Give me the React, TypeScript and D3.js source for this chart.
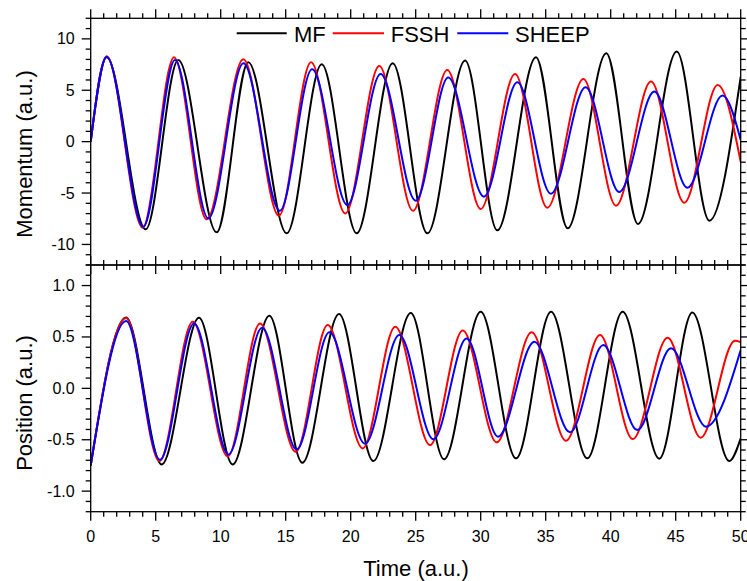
import React from "react";
import * as d3 from "d3";

// ---------- data (extrema) ----------
const mfMomT = [0, 1.23, 4.23, 6.74, 9.69, 12.12, 15.08, 17.77, 20.46, 23.23, 25.9, 28.8, 31.28, 34.25, 36.69, 39.66, 42.1, 45.08, 47.59, 50];
const mfMomV = [0, 8.2, -8.53, 7.95, -8.82, 7.73, -8.92, 7.53, -8.92, 7.63, -8.92, 7.89, -8.63, 8.22, -8.43, 8.6, -8.01, 8.76, -7.69, 6.33];

const fsshMomT = [0, 1.23, 4.0, 6.41, 8.92, 11.74, 14.48, 16.95, 19.58, 22.2, 24.79, 27.43, 30.0, 32.64, 35.12, 37.9, 40.41, 43.1, 45.66, 48.23, 50];
const fsshMomV = [0, 8.3, -8.37, 8.22, -7.56, 8.02, -7.2, 7.73, -6.98, 7.37, -6.72, 6.98, -6.55, 6.59, -6.43, 6.1, -6.23, 5.84, -5.94, 5.52, -1.95];

const sheepMomT = [0, 1.23, 4.05, 6.48, 9.05, 11.75, 14.55, 17.03, 19.74, 22.3, 25.0, 27.5, 30.25, 32.82, 35.4, 38.07, 40.66, 43.36, 45.9, 48.6, 50];
const sheepMomV = [0, 8.25, -8.28, 7.95, -7.46, 7.63, -6.72, 7.05, -6.16, 6.59, -5.74, 6.23, -5.35, 5.78, -5.06, 5.3, -4.9, 4.87, -4.48, 4.48, 0.17];

const mfPosT = [0, 2.72, 5.46, 8.33, 10.92, 13.74, 16.28, 19.1, 21.74, 24.62, 27.18, 30.0, 32.72, 35.41, 38.2, 40.92, 43.74, 46.28, 49.12, 50];
const mfPosV = [-0.75, 0.69, -0.74, 0.687, -0.74, 0.706, -0.723, 0.723, -0.707, 0.733, -0.69, 0.745, -0.681, 0.745, -0.681, 0.745, -0.684, 0.739, -0.707, -0.486];

const fsshPosT = [0, 2.72, 5.28, 7.85, 10.54, 13.02, 15.77, 18.23, 20.92, 23.43, 26.1, 28.62, 31.23, 33.92, 36.56, 39.18, 41.69, 44.38, 46.92, 49.56, 50];
const fsshPosV = [-0.75, 0.685, -0.707, 0.648, -0.662, 0.632, -0.617, 0.616, -0.584, 0.6, -0.552, 0.564, -0.525, 0.545, -0.51, 0.518, -0.493, 0.492, -0.48, 0.463, 0.45];

const sheepPosT = [0, 2.72, 5.33, 7.95, 10.6, 13.18, 15.85, 18.36, 21.1, 23.74, 26.36, 28.92, 31.33, 34.13, 36.87, 39.43, 42.05, 44.64, 47.33, 50];
const sheepPosV = [-0.75, 0.655, -0.695, 0.632, -0.643, 0.59, -0.594, 0.545, -0.539, 0.518, -0.496, 0.486, -0.47, 0.453, -0.428, 0.421, -0.406, 0.389, -0.373, 0.373];

const seriesNames = ["MF", "FSSH", "SHEEP"];
const seriesColors = ["#000000", "#ff0000", "#0000ff"];

const xMajor = [0, 5, 10, 15, 20, 25, 30, 35, 40, 45, 50];
const xLabels = ["0", "5", "10", "15", "20", "25", "30", "35", "40", "45", "50"];
const momMajor = [-10, -5, 0, 5, 10];
const momLabels = ["-10", "-5", "0", "5", "10"];
const posMajor = [-1.0, -0.5, 0, 0.5, 1.0];
const posLabels = ["-1.0", "-0.5", "0.0", "0.5", "1.0"];

const FONT = "'Liberation Sans', Arial, sans-serif";

function zip(t: number[], v: number[]) {
  return t.map((ti, i) => [ti, v[i]] as [number, number]);
}

export default function App() {
  const W = 747, H = 581;
  const xL = 90.7, xR = 740.7;
  const topY0 = 18.3, midY = 265, botY1 = 511.7;

  const x = d3.scaleLinear().domain([0, 50]).range([xL, xR]);
  const yTop = d3.scaleLinear().domain([-12, 12]).range([midY, topY0]);
  const yBot = d3.scaleLinear().domain([-1.2, 1.2]).range([botY1, midY]);

  const xMinor = d3.range(0, 51, 1);
  const momMinor = d3.range(-12, 12.001, 1);
  const posMinor = d3.range(-12, 12.001, 1).map((d) => d / 10);

  const lineTop = d3.line<[number, number]>().x((d) => x(d[0])).y((d) => yTop(d[1])).curve(d3.curveMonotoneX);
  const lineBot = d3.line<[number, number]>().x((d) => x(d[0])).y((d) => yBot(d[1])).curve(d3.curveMonotoneX);

  const momSeries = [zip(mfMomT, mfMomV), zip(fsshMomT, fsshMomV), zip(sheepMomT, sheepMomV)];
  const posSeries = [zip(mfPosT, mfPosV), zip(fsshPosT, fsshPosV), zip(sheepPosT, sheepPosV)];

  const MAJ = 9, MIN = 5, SW = 1.3;
  const isMajor = (v: number, majors: number[]) => majors.some((m) => Math.abs(m - v) < 1e-6);

  const ticks: JSX.Element[] = [];
  xMinor.forEach((v, i) => {
    const len = isMajor(v, xMajor) ? MAJ : MIN;
    const px = x(v);
    ticks.push(<line key={"xt" + i} x1={px} x2={px} y1={topY0} y2={topY0 - len} />);
    ticks.push(<line key={"xm" + i} x1={px} x2={px} y1={midY - len} y2={midY + len} />);
    ticks.push(<line key={"xb" + i} x1={px} x2={px} y1={botY1} y2={botY1 + len} />);
  });
  momMinor.forEach((v, i) => {
    const len = isMajor(v, momMajor) ? MAJ : MIN;
    const py = yTop(v);
    ticks.push(<line key={"ml" + i} x1={xL} x2={xL - len} y1={py} y2={py} />);
    ticks.push(<line key={"mr" + i} x1={xR} x2={xR + len} y1={py} y2={py} />);
  });
  posMinor.forEach((v, i) => {
    const len = isMajor(v, posMajor) ? MAJ : MIN;
    const py = yBot(v);
    ticks.push(<line key={"pl" + i} x1={xL} x2={xL - len} y1={py} y2={py} />);
    ticks.push(<line key={"pr" + i} x1={xR} x2={xR + len} y1={py} y2={py} />);
  });

  const legend = [
    { x1: 236.7, x2: 286.7, tx: 294 },
    { x1: 332.7, x2: 384, tx: 390.7 },
    { x1: 457.3, x2: 508.3, tx: 515 },
  ];

  return (
    <svg width={W} height={H} style={{ position: "absolute", left: 0, top: 0, background: "#fff" }} fontFamily={FONT}>
      <defs>
        <clipPath id="clipTop"><rect x={xL} y={topY0} width={xR - xL} height={midY - topY0} /></clipPath>
        <clipPath id="clipBot"><rect x={xL} y={midY} width={xR - xL} height={botY1 - midY} /></clipPath>
      </defs>

      <g clipPath="url(#clipTop)" fill="none" strokeWidth={2} strokeLinejoin="round">
        {momSeries.map((s, i) => (
          <path key={"m" + i} d={lineTop(s) || ""} stroke={seriesColors[i]} />
        ))}
      </g>
      <g clipPath="url(#clipBot)" fill="none" strokeWidth={2} strokeLinejoin="round">
        {posSeries.map((s, i) => (
          <path key={"p" + i} d={lineBot(s) || ""} stroke={seriesColors[i]} />
        ))}
      </g>

      <g stroke="#000" strokeWidth={SW}>{ticks}</g>
      <g fill="none" stroke="#000" strokeWidth={SW}>
        <rect x={xL} y={topY0} width={xR - xL} height={midY - topY0} />
        <rect x={xL} y={midY} width={xR - xL} height={botY1 - midY} />
      </g>

      <g fontSize={16} fill="#000">
        {momMajor.map((v, i) => (
          <text key={"mlab" + i} x={xL - 16} y={yTop(v)} textAnchor="end" dominantBaseline="central">{momLabels[i]}</text>
        ))}
        {posMajor.map((v, i) => (
          <text key={"plab" + i} x={xL - 16} y={yBot(v)} textAnchor="end" dominantBaseline="central">{posLabels[i]}</text>
        ))}
        {xMajor.map((v, i) => (
          <text key={"xlab" + i} x={x(v)} y={542} textAnchor="middle">{xLabels[i]}</text>
        ))}
      </g>

      <g fontSize={22} fill="#000">
        <text transform={`translate(32,154) rotate(-90)`} textAnchor="middle">Momentum (a.u.)</text>
        <text transform={`translate(32,403) rotate(-90)`} textAnchor="middle">Position (a.u.)</text>
        <text x={416} y={576} textAnchor="middle">Time (a.u.)</text>
      </g>

      <g fontSize={22}>
        {legend.map((l, i) => (
          <g key={"lg" + i}>
            <line x1={l.x1} x2={l.x2} y1={33.3} y2={33.3} stroke={seriesColors[i]} strokeWidth={2} />
            <text x={l.tx} y={41.5} fill="#000">{seriesNames[i]}</text>
          </g>
        ))}
      </g>
    </svg>
  );
}
